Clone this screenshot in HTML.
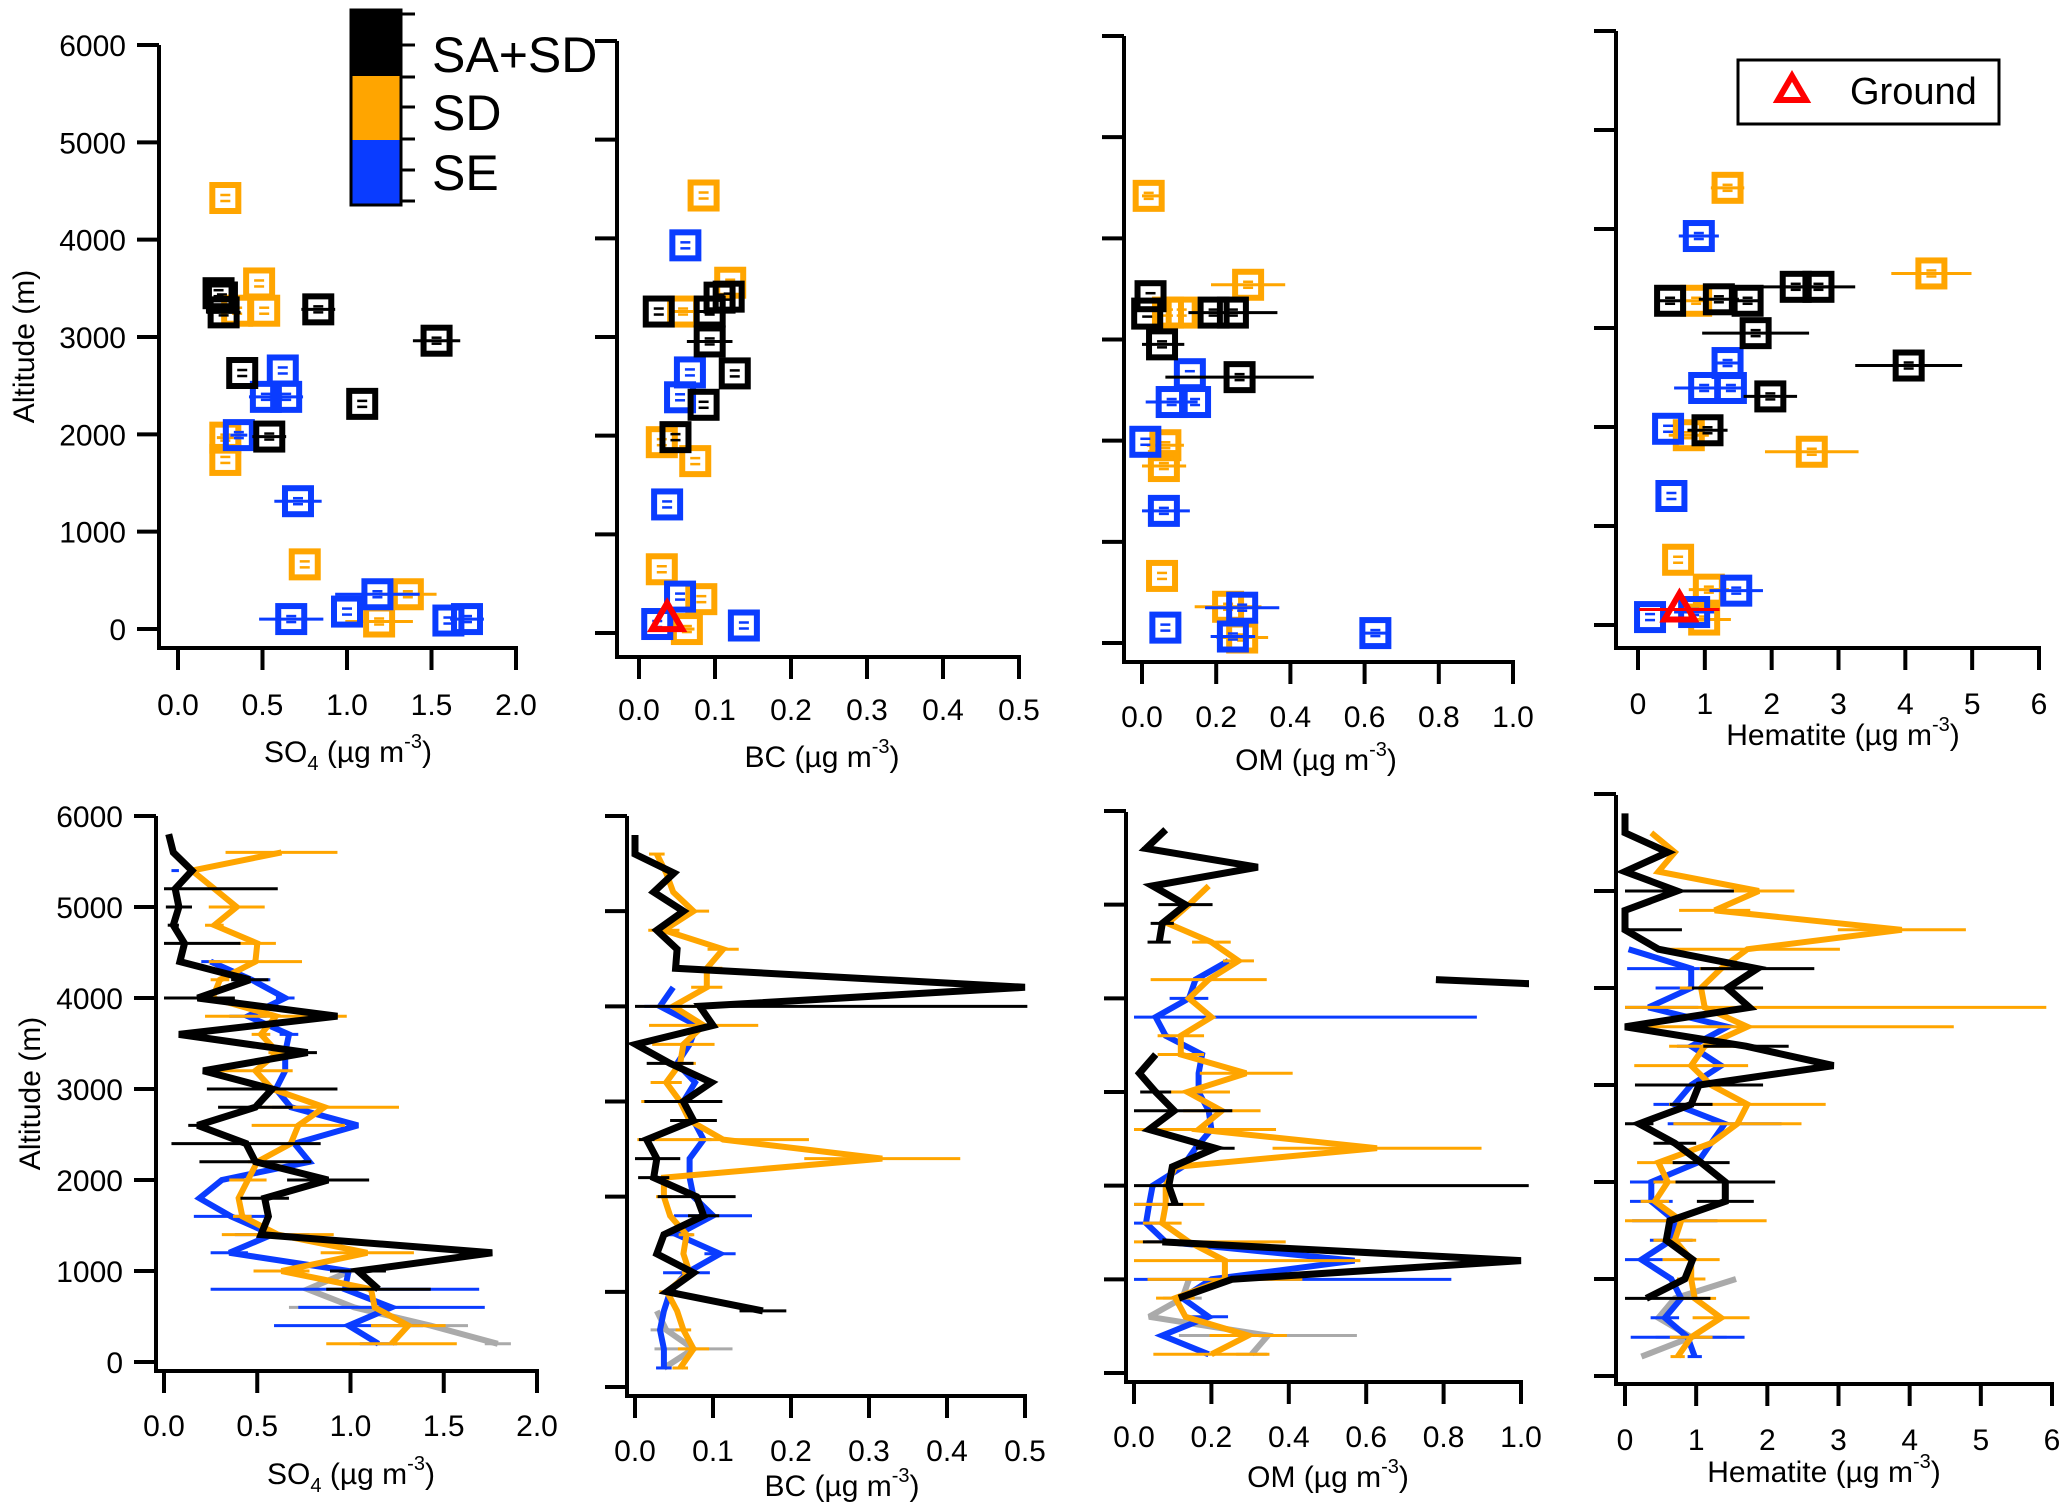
<!DOCTYPE html>
<html><head><meta charset="utf-8"><style>
html,body{margin:0;padding:0;background:#fff;}
svg{display:block;font-family:"Liberation Sans",Arial,sans-serif;}
</style></head><body>
<svg id="chart" xmlns="http://www.w3.org/2000/svg" width="2067" height="1505" viewBox="0 0 2067 1505">
<defs>
<clipPath id="cB1"><rect x="156" y="780" width="390" height="600"/></clipPath>
<clipPath id="cB2"><rect x="627" y="780" width="406" height="620"/></clipPath>
<clipPath id="cB3"><rect x="1126" y="780" width="403" height="610"/></clipPath>
<clipPath id="cB4"><rect x="1616" y="780" width="445" height="610"/></clipPath>
</defs>
<g id="colorbar-legend">
<rect x="351" y="10" width="50" height="66" fill="#000"/>
<rect x="351" y="76" width="50" height="64" fill="#FFA500"/>
<rect x="351" y="140" width="50" height="65" fill="#0A3CFF"/>
<rect x="351" y="10" width="50" height="195" fill="none" stroke="#000" stroke-width="3"/>
<g stroke="#000" stroke-width="3">
<line x1="401" y1="14" x2="415" y2="14"/><line x1="401" y1="45" x2="415" y2="45"/><line x1="401" y1="77" x2="415" y2="77"/><line x1="401" y1="107" x2="415" y2="107"/><line x1="401" y1="139" x2="415" y2="139"/><line x1="401" y1="170" x2="415" y2="170"/><line x1="401" y1="201" x2="415" y2="201"/>
</g>
<text x="432" y="72" font-size="50">SA+SD</text>
<text x="432" y="130" font-size="50">SD</text>
<text x="432" y="190" font-size="50">SE</text>
</g>
<g id="ground-legend">
<rect x="1738" y="60" width="261" height="64" fill="#fff" stroke="#000" stroke-width="3"/>
<polygon points="1792,76 1806,100 1778,100" fill="none" stroke="#f00" stroke-width="6" stroke-linejoin="miter"/>
<text x="1850" y="104" font-size="38">Ground</text>
</g>
<g id="plots"></g>
</svg>
<script>
// ---------- Top scatter data (value, altitude, error half-width) ----------
const so4SD_v=[0.28,0.48,0.51,0.35,0.28,0.28,0.75,1.36,1.19];
const so4SD_a=[4428,3550,3270,3270,1966,1737,664,357,77];
const so4SD_e=[0,0,0,0,0.05,0,0,0.17,0.2];
const so4SE_v=[0.62,0.52,0.64,0.36,0.71,1.18,1.0,0.67,1.6,1.71];
const so4SE_a=[2656,2385,2385,1992,1313,357,179,102,87,102];
const so4SE_e=[0,0.1,0.1,0.05,0.14,0.25,0,0.19,0,0.1];
const so4SA_v=[0.24,0.26,0.27,0.83,1.53,0.38,1.09,0.54];
const so4SA_a=[3450,3406,3253,3284,2962,2630,2313,1977];
const so4SA_e=[0,0.05,0.1,0.1,0.14,0,0,0.1];

const bcSD_v=[0.085,0.12,0.058,0.03,0.074,0.03,0.082,0.063];
const bcSD_a=[4434,3550,3258,1934,1742,646,343,40];
const bcSD_e=[0,0,0.02,0,0,0,0,0.01];
const bcSE_v=[0.061,0.067,0.054,0.037,0.054,0.024,0.138];
const bcSE_a=[3929,2641,2389,1303,369,91,76];
const bcSE_e=[0,0,0,0,0,0,0];
const bcSA_v=[0.026,0.093,0.106,0.118,0.093,0.126,0.085,0.048];
const bcSA_a=[3258,3258,3399,3409,2955,2631,2313,1985];
const bcSA_e=[0,0.02,0,0,0.03,0,0,0];
const bcGround_v=[0.037], bcGround_a=[141], bcGround_e=[0];

const omSD_v=[0.018,0.286,0.107,0.07,0.063,0.059,0.054,0.232,0.27];
const omSD_a=[4420,3541,3266,3266,1955,1749,663,358,54];
const omSD_e=[0.03,0.1,0,0,0.05,0.06,0,0.09,0.07];
const omSE_v=[0.129,0.08,0.143,0.009,0.059,0.27,0.063,0.245,0.629];
const omSE_a=[2657,2382,2382,1989,1306,349,152,64,98];
const omSE_e=[0,0.07,0,0,0.07,0.1,0,0.06,0.04];
const omSA_v=[0.023,0.014,0.193,0.245,0.054,0.263];
const omSA_a=[3428,3256,3266,3266,2952,2628];
const omSA_e=[0,0,0,0.12,0.06,0.2];

const hemSD_v=[1.34,4.39,0.87,0.76,2.6,0.6,1.06,0.99];
const hemSD_a=[4416,3551,3275,1917,1750,659,357,55];
const hemSD_e=[0.25,0.6,0.2,0.3,0.7,0,0.3,0.4];
const hemSE_v=[0.91,1.34,0.99,1.39,0.45,0.5,1.47,0.18,0.84];
const hemSE_a=[3929,2646,2394,2394,1982,1303,347,80,131];
const hemSE_e=[0.3,0.2,0.45,0.2,0,0,0.4,0,0.3];
const hemSA_v=[0.48,1.21,1.64,2.36,2.7,1.76,4.05,1.98,1.04];
const hemSA_a=[3275,3290,3275,3416,3416,2948,2621,2309,1967];
const hemSA_e=[0.2,0.3,0.2,0.5,0.55,0.8,0.8,0.4,0.3];
const hemGround_v=[0.62], hemGround_a=[156], hemGround_e=[0.6];

// ---------- Bottom profile data ----------
const profileAlt=[5800,5600,5400,5200,5000,4800,4600,4400,4200,4000,3800,3600,3400,3200,3000,2800,2600,2400,2200,2000,1800,1600,1400,1200,1000,800,600,400,200];
const N=null;
const so4Black=[0.025,0.05,0.15,0.06,0.08,0.05,0.11,0.085,0.46,0.18,0.93,0.08,0.77,0.21,0.58,0.49,0.18,0.44,0.49,0.88,0.54,0.56,0.52,1.76,1.04,1.15,N,N,N];
const so4BlackErr=[0,0,0,0.55,0.07,0.03,0.3,0,0.1,0.2,0,0,0.05,0,0.35,0.2,0.05,0.4,0.3,0.22,0.13,0,0,0,0.15,0.28,0,0,0];
const so4Orange=[N,0.63,0.15,0.27,0.39,0.27,0.5,0.49,0.3,0.26,0.6,0.52,0.61,0.49,0.58,0.86,0.72,0.68,0.5,0.45,0.4,0.42,0.61,1.09,0.63,1.11,1.13,1.31,1.22];
const so4OrangeErr=[0,0.3,0,0,0.15,0.05,0.1,0.25,0.05,0.1,0.38,0.05,0.05,0.2,0,0.4,0.25,0,0.05,0.1,0,0.05,0.3,0.25,0.15,0,0,0.2,0.35];
const so4Blue=[N,N,0.06,N,N,N,N,0.25,0.47,0.65,0.45,0.67,0.65,0.65,0.6,0.68,1.04,0.7,0.78,0.31,0.19,0.36,0.58,0.35,0.99,0.97,1.22,0.99,1.15];
const so4BlueErr=[0,0,0.02,0,0,0,0,0.05,0.1,0.05,0.1,0.05,0.05,0,0,0.1,0,0,0,0,0,0.2,0.2,0.1,0,0.72,0.5,0.4,0.1];
const so4Gray=[N,N,N,N,N,N,N,N,N,N,N,N,N,N,N,N,N,N,N,N,N,N,N,N,1.0,0.77,1.02,1.43,1.79];
const so4GrayErr=[0,0,0,0,0,0,0,0,0,0,0,0,0,0,0,0,0,0,0,0,0,0,0,0,0,0,0.35,0.2,0.07];

const bcBlack=[0,0,0.05,0.024,0.062,0.028,0.054,0.052,0.5,0.083,0.1,0.001,0.045,0.098,0.062,0.075,0.015,0.028,0.024,0.079,0.088,0.037,0.028,0.075,0.041,0.164,N,N,N];
const bcBlackErr=[0,0,0,0,0,0,0,0,0,0.42,0,0,0.03,0,0.05,0.03,0.01,0.03,0.02,0.05,0.02,0,0,0,0,0.03,0,0,0];
const bcOrange=[N,0.028,0.04,0.049,0.075,0.037,0.113,0.092,0.092,0.049,0.088,0.062,0.058,0.04,0.058,0.07,0.113,0.317,0.037,0.037,0.045,0.066,0.062,0.07,0.041,0.054,0.062,0.075,0.058];
const bcOrangeErr=[0,0.01,0,0,0.02,0.02,0.02,0.02,0.02,0.03,0.07,0.04,0.02,0.02,0.05,0.02,0.11,0.1,0,0.01,0,0.01,0,0.01,0.01,0,0.01,0.02,0.01];
const bcBlue=[N,N,N,N,N,N,N,N,0.049,0.032,0.079,0.07,0.054,0.077,0.062,0.075,0.088,0.07,0.07,0.075,0.1,0.054,0.109,0.066,0.045,0.037,0.032,0.037,0.037];
const bcBlueErr=[0,0,0,0,0,0,0,0,0,0.02,0,0,0,0,0,0,0.01,0,0,0,0.05,0.02,0.02,0.03,0.01,0,0,0,0.01];
const bcGray=[N,N,N,N,N,N,N,N,N,N,N,N,N,N,N,N,N,N,N,N,N,N,N,N,N,0.028,0.04,0.075,0.037];
const bcGrayErr=[0,0,0,0,0,0,0,0,0,0,0,0,0,0,0,0,0,0,0,0,0,0,0,0,0,0,0.02,0.05,0];

const omBlack=[0.082,0.031,0.32,0.048,0.133,0.073,0.065,N,0.78,1.88,N,N,0.056,0.014,0.056,0.104,0.039,0.21,0.099,0.09,0.107,N,0.073,1.0,0.253,0.116,N,N,N];
const omBlackErr=[0,0.01,0,0,0.07,0.03,0.03,0,0,0,0,0,0,0,0.04,0.15,0,0.05,0,0.93,0.02,0,0.05,0,0,0,0,0,0];
const omOrange=[N,N,N,0.193,0.142,0.087,0.2,0.27,0.193,0.142,0.2,0.121,0.121,0.29,0.138,0.227,0.167,0.628,0.107,0.082,0.082,0.073,0.142,0.235,0.235,0.107,0.133,0.295,0.2];
const omOrangeErr=[0,0,0,0,0,0,0.05,0.04,0.15,0,0,0.06,0.06,0.12,0.11,0.1,0.2,0.27,0,0,0.1,0.05,0.25,0.35,0.2,0.05,0,0.1,0.15];
const omBlue=[N,N,N,N,N,N,N,0.244,0.159,0.142,0.056,0.082,0.176,0.167,0.167,0.193,0.2,0.159,0.125,0.048,0.039,0.031,0.082,0.57,0.2,0.125,0.193,0.073,0.193];
const omBlueErr=[0,0,0,0,0,0,0,0,0,0.05,0.83,0,0,0,0,0,0,0,0,0,0.05,0.05,0.05,0,0.62,0,0.05,0,0];
const omGray=[N,N,N,N,N,N,N,N,N,N,N,N,N,N,N,N,N,N,N,N,N,N,N,N,0.142,0.125,0.039,0.346,0.304];
const omGrayErr=[0,0,0,0,0,0,0,0,0,0,0,0,0,0,0,0,0,0,0,0,0,0,0,0,0,0.05,0,0.23,0.04];

const hemBlack=[0,0,0.6,0,0.73,0,0,0.47,1.86,1.44,1.75,0,1.7,2.93,1.04,0.93,0.2,0.7,1.07,1.41,1.41,0.63,0.58,0.95,0.84,0.3,N,N,N];
const hemBlackErr=[0,0,0,0,0.8,0,0.8,0,0.8,0.5,0,0,0.6,0,0.9,0.3,0.2,0.3,0.4,0.7,0.4,0,0,0,0,0.9,0,0,0];
const hemOrange=[N,0.37,0.7,0.47,1.88,1.26,3.89,1.72,1.35,1.07,1.12,1.72,1.12,0.93,1.21,1.72,1.58,1.21,0.47,0.6,0.42,0.79,0.7,0.93,0.93,0.98,1.35,0.93,0.74];
const hemOrangeErr=[0,0,0,0,0.5,0.5,0.9,1.3,0.3,0.3,4.8,2.9,0.5,0.8,0.5,1.1,0.9,0,0.3,0.2,0.2,1.2,0.3,0.4,0.2,0.3,0.4,0.3,0.1];
const hemBlue=[N,N,N,N,N,N,N,0.05,0.93,0.93,0.33,1.44,0.93,1.35,0.93,0.7,1.4,1.21,1.02,0.37,0.37,0.7,0.65,0.23,0.65,0.79,0.56,0.88,0.98];
const hemBlueErr=[0,0,0,0,0,0,0,0,0.9,0.5,0.7,0,0.2,0,0,0.3,0.8,0,0,0.3,0.3,0.6,0.3,0.3,0,0,0.2,0.8,0.1];
const hemGray=[N,N,N,N,N,N,N,N,N,N,N,N,N,N,N,N,N,N,N,N,N,N,N,N,1.56,0.7,0.47,0.93,0.23];
const hemGrayErr=[0,0,0,0,0,0,0,0,0,0,0,0,0,0,0,0,0,0,0,0,0,0,0,0,0,0,0,0.5,0];

const so4Ticks=['0.0','0.5','1.0','1.5','2.0'];
const bcTicks=['0.0','0.1','0.2','0.3','0.4','0.5'];
const omTicks=['0.0','0.2','0.4','0.6','0.8','1.0'];
const hemTicks=['0','1','2','3','4','5','6'];
const altTicks=[0,1000,2000,3000,4000,5000,6000];

const COL={SD:'#FFA500',SE:'#0A3CFF',SA:'#000000',GR:'#AAAAAA'};
const NS='http://www.w3.org/2000/svg';
const root=document.getElementById('plots');
function mk(tag,attrs,parent){const e=document.createElementNS(NS,tag);for(const k in attrs)e.setAttribute(k,attrs[k]);(parent||root).appendChild(e);return e;}

const P={
 T1:{ax:159,top:45,bot:648,x0:178,x1:516,vmax:2,a0:629,a6:45,ly:704,tx:348,ty:751,ticks:so4Ticks,ylab:true,ttl:'so4'},
 T2:{ax:617,top:41,bot:657,x0:639,x1:1019,vmax:0.5,a0:633,a6:41,ly:709,tx:822,ty:756,ticks:bcTicks,ylab:false,ttl:'BC'},
 T3:{ax:1124,top:36,bot:662,x0:1142,x1:1513,vmax:1,a0:643,a6:36,ly:716,tx:1316,ty:759,ticks:omTicks,ylab:false,ttl:'OM'},
 T4:{ax:1616,top:31,bot:648,x0:1638,x1:2039,vmax:6,a0:625,a6:31,ly:703,tx:1843,ty:734,ticks:hemTicks,ylab:false,ttl:'Hematite'},
 B1:{ax:156,top:816,bot:1371,x0:164,x1:537,vmax:2,a0:1362,a6:816,ly:1425,tx:351,ty:1473,ticks:so4Ticks,ylab:true,ttl:'so4'},
 B2:{ax:627,top:816,bot:1396,x0:635,x1:1025,vmax:0.5,a0:1387,a6:816,ly:1450,tx:842,ty:1485,ticks:bcTicks,ylab:false,ttl:'BC'},
 B3:{ax:1126,top:812,bot:1382,x0:1134,x1:1521,vmax:1,a0:1373,a6:811,ly:1436,tx:1328,ty:1476,ticks:omTicks,ylab:false,ttl:'OM'},
 B4:{ax:1616,top:795,bot:1384,x0:1625,x1:2052,vmax:6,a0:1376,a6:794,ly:1439,tx:1824,ty:1471,ticks:hemTicks,ylab:false,ttl:'Hematite'}
};
function xs(p,v){return p.x0+(v/p.vmax)*(p.x1-p.x0);}
function ys(p,a){return p.a0+(a/6000)*(p.a6-p.a0);}

function drawAxes(key){
 const p=P[key];
 const g=mk('g',{});
 
 
 mk('line',{x1:p.ax,y1:p.top,x2:p.ax,y2:p.bot+2,stroke:'#000','stroke-width':4},g);
 mk('line',{x1:p.ax-2,y1:p.bot,x2:p.x1+2,y2:p.bot,stroke:'#000','stroke-width':4},g);
 altTicks.forEach(a=>{
  const y=ys(p,a);
  mk('line',{x1:p.ax-22,y1:y,x2:p.ax,y2:y,stroke:'#000','stroke-width':4},g);
  if(p.ylab){const t=mk('text',{x:p.ax-33,y:y+11,'font-size':30,'text-anchor':'end'},g);t.textContent=a;
   
   }
 });
 p.ticks.forEach((lab,i)=>{
  const v=i*p.vmax/(p.ticks.length-1);const x=xs(p,v);
  mk('line',{x1:x,y1:p.bot,x2:x,y2:p.bot+22,stroke:'#000','stroke-width':4},g);
  const t=mk('text',{x:x,y:p.ly+11,'font-size':30,'text-anchor':'middle'},g);t.textContent=lab;
  
  
 });
 const tt=mk('text',{x:p.tx,y:p.ty+11,'font-size':30,'text-anchor':'middle'},g);
 
 
 const name=p.ttl==='so4'?'SO':p.ttl;
 const s1=mk('tspan',{},tt);s1.textContent=name;
 if(p.ttl==='so4'){const s=mk('tspan',{dy:8,'font-size':20},tt);s.textContent='4';}
 const s2=mk('tspan',{dy:p.ttl==='so4'?-8:0},tt);s2.textContent=' (µg m';
 const s3=mk('tspan',{dy:-14,'font-size':20},tt);s3.textContent='-3';
 const s4=mk('tspan',{dy:14},tt);s4.textContent=')';
 if(p.ylab){
  const cy=(p.top+p.bot)/2; const cx=key==='T1'?24:30;
  const yt=mk('text',{x:cx,y:cy,'font-size':30,'text-anchor':'middle',transform:'rotate(-90 '+cx+' '+cy+')',dy:10},g);
  yt.textContent='Altitude (m)';
  
  
 }
}

function scatter(key,vals,alts,errs,color,label){
 const p=P[key];
 const g=mk('g',{});
 
 
 vals.forEach((v,i)=>{
  const x=xs(p,v),y=ys(p,alts[i]);
  if(errs[i]>0){const l=mk('line',{x1:xs(p,Math.max(0,v-errs[i])),x2:xs(p,v+errs[i]),y1:y,y2:y,stroke:color,'stroke-width':3},g);
   
   }
  const r=mk('rect',{x:x-13,y:y-13,width:26,height:26,fill:'none',stroke:color,'stroke-width':6},g);
  
  
  mk('line',{x1:x-5,x2:x+5,y1:y-3,y2:y-3,stroke:color,'stroke-width':2.5},g);
  mk('line',{x1:x-5,x2:x+5,y1:y+3,y2:y+3,stroke:color,'stroke-width':2.5},g);
 });
}
function ground(key,vals,alts,errs){
 const p=P[key];
 const g=mk('g',{});
 
 
 vals.forEach((v,i)=>{
  const x=xs(p,v),y=ys(p,alts[i]);
  if(errs[i]>0)mk('line',{x1:xs(p,Math.max(0,v-errs[i])),x2:xs(p,v+errs[i]),y1:y,y2:y,stroke:'#f00','stroke-width':3},g);
  mk('polygon',{points:(x)+','+(y-16)+' '+(x+15)+','+(y+10)+' '+(x-15)+','+(y+10),fill:'none',stroke:'#f00','stroke-width':6},g);
 });
}
function profile(key,vals,errs,color,width,label){
 const p=P[key];
 const g=mk('g',{'clip-path':'url(#c'+key+')'});
 
 
 vals.forEach((v,i)=>{
  if(v===null||!(errs[i]>0))return;
  const y=ys(p,profileAlt[i]);
  const l=mk('line',{x1:xs(p,Math.max(0,v-errs[i])),x2:xs(p,v+errs[i]),y1:y,y2:y,stroke:color,'stroke-width':3},g);
  
  
 });
 let d='',pen=false;
 vals.forEach((v,i)=>{
  if(v===null){pen=false;return;}
  d+=(pen?'L':'M')+xs(p,v).toFixed(1)+' '+ys(p,profileAlt[i]).toFixed(1)+' ';pen=true;
 });
 const path=mk('path',{d:d,fill:'none',stroke:color,'stroke-width':width,'stroke-linejoin':'miter','stroke-miterlimit':3},g);
 
 
}

['T1','T2','T3','T4','B1','B2','B3','B4'].forEach(drawAxes);

scatter('T1',so4SD_v,so4SD_a,so4SD_e,COL.SD,'so4-sd');
scatter('T1',so4SE_v,so4SE_a,so4SE_e,COL.SE,'so4-se');
scatter('T1',so4SA_v,so4SA_a,so4SA_e,COL.SA,'so4-sa-sd');
scatter('T2',bcSD_v,bcSD_a,bcSD_e,COL.SD,'bc-sd');
scatter('T2',bcSE_v,bcSE_a,bcSE_e,COL.SE,'bc-se');
scatter('T2',bcSA_v,bcSA_a,bcSA_e,COL.SA,'bc-sa-sd');
ground('T2',bcGround_v,bcGround_a,bcGround_e);
scatter('T3',omSD_v,omSD_a,omSD_e,COL.SD,'om-sd');
scatter('T3',omSE_v,omSE_a,omSE_e,COL.SE,'om-se');
scatter('T3',omSA_v,omSA_a,omSA_e,COL.SA,'om-sa-sd');
scatter('T4',hemSD_v,hemSD_a,hemSD_e,COL.SD,'hematite-sd');
scatter('T4',hemSE_v,hemSE_a,hemSE_e,COL.SE,'hematite-se');
scatter('T4',hemSA_v,hemSA_a,hemSA_e,COL.SA,'hematite-sa-sd');
ground('T4',hemGround_v,hemGround_a,hemGround_e);

profile('B1',so4Gray,so4GrayErr,COL.GR,6,'so4-gray');
profile('B1',so4Blue,so4BlueErr,COL.SE,6,'so4-se');
profile('B1',so4Orange,so4OrangeErr,COL.SD,6,'so4-sd');
profile('B1',so4Black,so4BlackErr,COL.SA,7,'so4-sa-sd');
profile('B2',bcGray,bcGrayErr,COL.GR,6,'bc-gray');
profile('B2',bcBlue,bcBlueErr,COL.SE,6,'bc-se');
profile('B2',bcOrange,bcOrangeErr,COL.SD,6,'bc-sd');
profile('B2',bcBlack,bcBlackErr,COL.SA,7,'bc-sa-sd');
profile('B3',omGray,omGrayErr,COL.GR,6,'om-gray');
profile('B3',omBlue,omBlueErr,COL.SE,6,'om-se');
profile('B3',omOrange,omOrangeErr,COL.SD,6,'om-sd');
profile('B3',omBlack,omBlackErr,COL.SA,7,'om-sa-sd');
profile('B4',hemGray,hemGrayErr,COL.GR,6,'hematite-gray');
profile('B4',hemBlue,hemBlueErr,COL.SE,6,'hematite-se');
profile('B4',hemOrange,hemOrangeErr,COL.SD,6,'hematite-sd');
profile('B4',hemBlack,hemBlackErr,COL.SA,7,'hematite-sa-sd');
</script>
</body></html>
